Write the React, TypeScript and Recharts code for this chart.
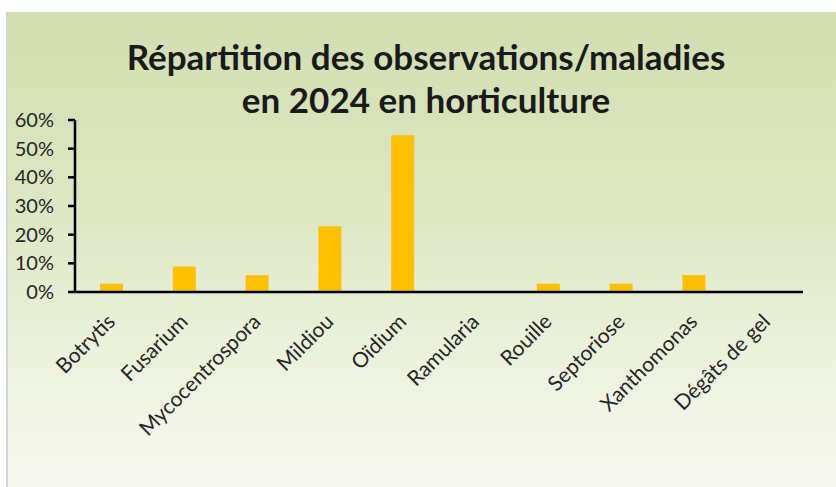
import React from 'react';
import { BarChart, Bar, XAxis, YAxis } from 'recharts';

const categories = ['Botrytis', 'Fusarium', 'Mycocentrospora', 'Mildiou', 'Oïdium', 'Ramularia', 'Rouille', 'Septoriose', 'Xanthomonas', 'Dégâts de gel'];
const values = [2.9, 8.9, 5.9, 22.9, 54.7, 0, 2.9, 2.9, 5.9, 0];
const yTicks = [0, 10, 20, 30, 40, 50, 60];
const titleLines = ['Répartition des observations/maladies', 'en 2024 en horticulture'];

const data = categories.map((name, i) => ({ name, value: values[i] }));

const FONT = 'Lato, "Open Sans", sans-serif';

const XTick = (props: any) => {
  const { x, payload } = props;
  const ax = x + 5;
  const ay = 323;
  return (
    <text
      x={ax}
      y={ay}
      transform={`rotate(-45, ${ax}, ${ay})`}
      textAnchor="end"
      fontSize={21}
      fontFamily={FONT}
      fill="#262626"
    >
      {payload.value}
    </text>
  );
};

export default function App() {
  return (
    <div style={{ position: 'absolute', left: 0, top: 0, width: 836, height: 487, background: '#ffffff', overflow: 'hidden' }}>
      <div
        style={{
          position: 'absolute',
          left: 6,
          top: 12,
          width: 830,
          height: 475,
          background: 'linear-gradient(to bottom, #d2deb0 0%, #dce6c2 40%, #e9efd7 65%, #f7f9f1 100%)',
          borderLeft: '2px solid #d2d2d2',
          boxSizing: 'border-box',
        }}
      />
      <div style={{ position: 'absolute', left: 0, top: 0 }}>
        <BarChart width={836} height={487} data={data} margin={{ top: 120, right: 33, left: 0, bottom: 45 }}>
          <XAxis
            dataKey="name"
            interval={0}
            height={150}
            tickLine={false}
            axisLine={{ stroke: '#000', strokeWidth: 2.5 }}
            tick={<XTick />}
          />
          <YAxis
            width={75}
            domain={[0, 60]}
            ticks={yTicks}
            interval={0}
            tickFormatter={(v: number) => `${v}%`}
            axisLine={{ stroke: '#000', strokeWidth: 2.5 }}
            tickLine={{ stroke: '#000', strokeWidth: 2.5 }}
            tickSize={7}
            tickMargin={14}
            tick={{ fontSize: 20, fontFamily: FONT, fill: '#262626' }}
          />
          <Bar dataKey="value" fill="#FFC000" barSize={23} isAnimationActive={false} />
        </BarChart>
      </div>
      <svg width={836} height={487} style={{ position: 'absolute', left: 0, top: 0, pointerEvents: 'none' }}>
        <text x={426} y={70} textAnchor="middle" fontSize={35} fontWeight={700} fontFamily={FONT} fill="#1a1a1a">
          {titleLines[0]}
        </text>
        <text x={426} y={113} textAnchor="middle" fontSize={35} fontWeight={700} fontFamily={FONT} fill="#1a1a1a">
          {titleLines[1]}
        </text>
      </svg>
    </div>
  );
}
